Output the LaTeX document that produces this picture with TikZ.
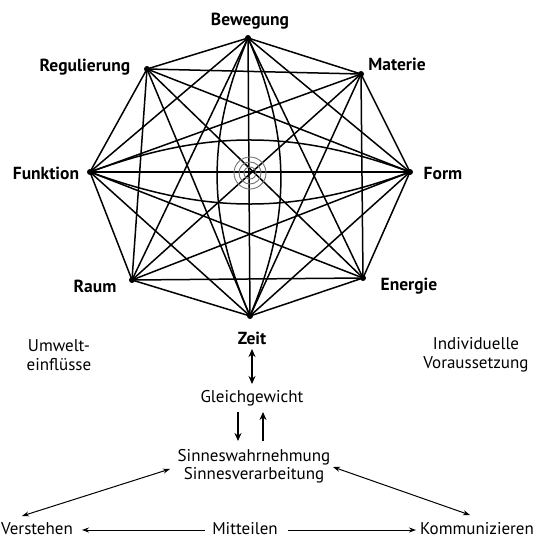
\documentclass[tikz,border=0pt]{standalone}
\usepackage{fontspec}
\setmainfont{PT Sans}
\usetikzlibrary{arrows.meta}
\begin{document}
\begin{tikzpicture}[x=1pt,y=-1pt,
  chord/.style={line width=1.5pt,black},
  vdot/.style={circle,fill=black,inner sep=0pt,minimum size=6pt},
  blab/.style={font=\fontsize{17.5}{19}\selectfont\bfseries,inner sep=0pt},
  rlab/.style={font=\fontsize{17}{19}\selectfont,inner sep=0pt,align=center},
  arr/.style={line width=1.4pt,-{Stealth[length=8pt,width=7pt]}},
  darr/.style={line width=1.4pt,{Stealth[length=8pt,width=7pt]}-{Stealth[length=8pt,width=7pt]}},
  thinarr/.style={line width=1pt,{Stealth[length=7pt,width=5pt]}-{Stealth[length=7pt,width=5pt]}},
  thinr/.style={line width=1pt,-{Stealth[length=7pt,width=5pt]}}
]
\useasboundingbox (0,0) rectangle (542,541);
% vertices
\node[vdot] (v1) at (248,38) {};
\node[vdot] (v2) at (361,74) {};
\node[vdot] (v3) at (410,172) {};
\node[vdot] (v4) at (363,278) {};
\node[vdot] (v5) at (250,316) {};
\node[vdot] (v6) at (132,280) {};
\node[vdot] (v7) at (90,172) {};
\node[vdot] (v8) at (147,69) {};
% all chords
\foreach \i in {1,...,8}{
  \foreach \j in {1,...,8}{
    \ifnum\i<\j
      \draw[chord] (v\i.center) -- (v\j.center);
    \fi
  }
}
% lenses between opposite vertices
\draw[chord] (v1.center) to[bend left=23] (v5.center);
\draw[chord] (v1.center) to[bend right=23] (v5.center);
\draw[chord] (v7.center) to[bend left=20] (v3.center);
\draw[chord] (v7.center) to[bend right=20] (v3.center);
% centre circles
\node[circle,draw=black!55,line width=0.9pt,minimum size=32pt,inner sep=0pt] (c1) at (250,173) {};
\node[circle,draw=black!55,line width=0.9pt,minimum size=22pt,inner sep=0pt] (c2) at (250,173) {};
\node[circle,draw=black!55,line width=0.9pt,minimum size=12pt,inner sep=0pt] (c3) at (250,173) {};
% labels
\node[blab] (lb1) at (250,21) {Bewegung};
\node[blab] (lb2) at (397,64) {Materie};
\node[blab] (lb3) at (443,173) {Form};
\node[blab] (lb4) at (409,286) {Energie};
\node[blab] (lb5) at (252,338) {Zeit};
\node[blab] (lb6) at (95,286) {Raum};
\node[blab] (lb7) at (46,173) {Funktion};
\node[blab] (lb8) at (85,67) {Regulierung};
% lower part
\node[rlab] (umw) at (59,355) {Umwelt-\\einflüsse};
\node[rlab] (ind) at (476,355) {Individuelle\\Voraussetzung};
\node[rlab] (gg) at (252,398) {Gleichgewicht};
\node[rlab,font=\fontsize{17}{17.5}\selectfont] (sw) at (254,466) {Sinneswahrnehmung\\Sinnesverarbeitung};
\node[rlab] (ver) at (37,529) {Verstehen};
\node[rlab] (mit) at (245,529) {Mitteilen};
\node[rlab] (kom) at (477,529) {Kommunizieren};
\coordinate (za) at (252,349); \coordinate (zb) at (252,384);
\draw[darr] (za) -- (zb);
\coordinate (d1a) at (238,412); \coordinate (d1b) at (238,441);
\coordinate (d2a) at (263,441); \coordinate (d2b) at (263,412);
\draw[arr] (d1a) -- (d1b);
\draw[arr] (d2a) -- (d2b);
\coordinate (la) at (22,516); \coordinate (lb) at (170,469);
\coordinate (ra) at (333,467); \coordinate (rb) at (470,515);
\draw[thinarr] (la) -- (lb);
\draw[thinarr] (ra) -- (rb);
\coordinate (ml) at (205,530); \coordinate (vr) at (82,530);
\coordinate (mr) at (288,530); \coordinate (kl) at (416,530);
\draw[thinr] (ml) -- (vr);
\draw[thinr] (mr) -- (kl);
\end{tikzpicture}
\end{document}
